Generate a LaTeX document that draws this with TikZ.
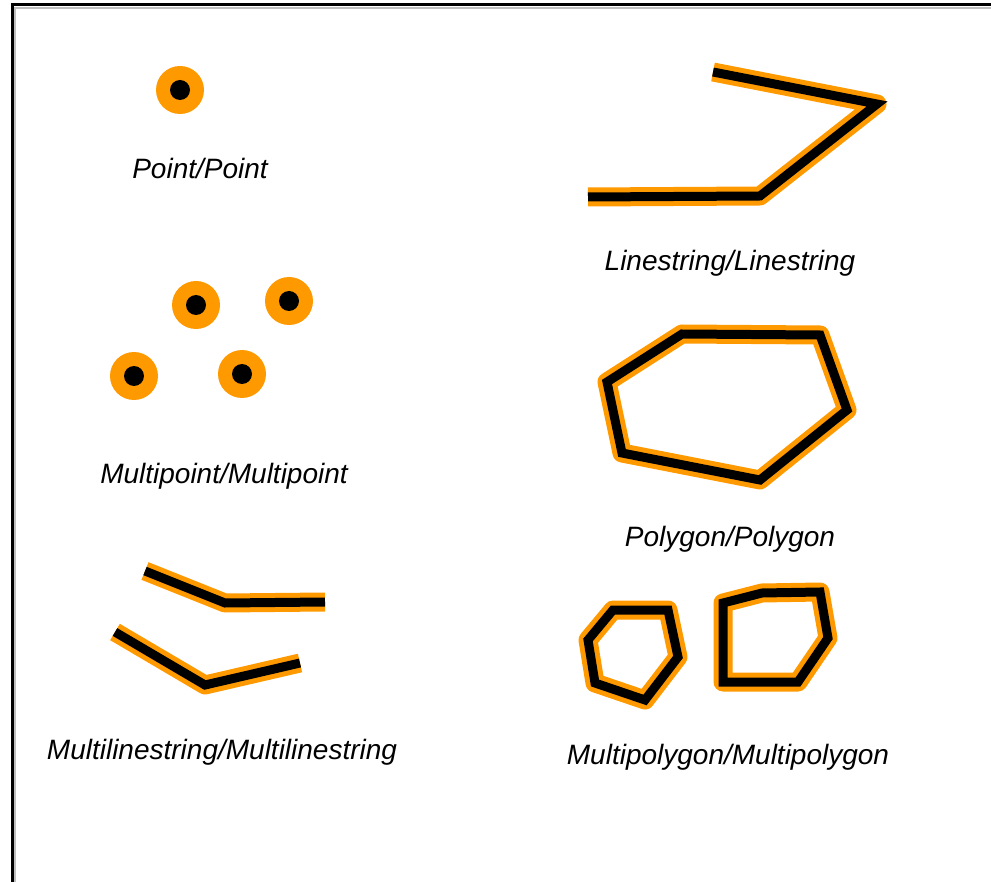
\documentclass[tikz,border=0pt]{standalone}
\usepackage{fontspec}
\setmainfont{Liberation Sans}
\usepackage{tikz}
\definecolor{halo}{RGB}{255,153,0}

\begin{document}
\begin{tikzpicture}[
x=1pt, y=-1pt, haloline/.style={draw=halo, line width=19pt, line join=round, line cap=butt}, coreline/.style={draw=black, line width=9pt, line join=miter}, ptouter/.style={circle, fill=halo, minimum size=48pt, inner sep=0pt}, ptinner/.style={circle, fill=black, minimum size=20pt, inner sep=0pt}, caption/.style={font=\fontsize{28}{30}\selectfont\itshape, inner sep=0pt, anchor=base} ]
\useasboundingbox (0,0) rectangle (991,882);
\draw[line width=3pt] (12,882) -- (12,5) -- (991,5);
\draw[gray!50, line width=1.5pt] (14.8,882) -- (14.8,7.8) -- (991,7.8);
% points
\node[ptouter] (p1o) at (180,90) {};
\node[ptinner] (p1i) at (p1o) {};
\node[caption] (ptlabel) at (200,179) {Point/Point};
\foreach \n/\px/\py in {a/196/305, b/289/301, c/134/376, d/242/374} {
  \node[ptouter] (mp\n o) at (\px,\py) {};
  \node[ptinner] (mp\n i) at (mp\n o) {};
}
\node[caption] (mplabel) at (224,483) {Multipoint/Multipoint};
% lines
\foreach \s in {haloline, coreline}
  \draw[\s] (713,72) -- (877,104) -- (760,196) -- (588,197);
\node[caption] (lslabel) at (730,271) {Linestring/Linestring};
\foreach \s in {haloline, coreline} {
  \draw[\s] (145,571) -- (225,603) -- (325,602);
  \draw[\s] (115,632) -- (205,685) -- (300,663);
}
\node[caption] (mlslabel) at (222,759) {Multilinestring/Multilinestring};
% polygons
\foreach \s in {haloline, coreline}
  \draw[\s] (682,334) -- (820,335) -- (847,410) -- (760,480) -- (622,453) -- (607,382) -- cycle;
\node[caption] (pglabel) at (730,546) {Polygon/Polygon};
\foreach \s in {haloline, coreline} {
  \draw[\s] (613,610) -- (668,610) -- (678,657) -- (645,700) -- (595,683) -- (588,640) -- cycle;
  \draw[\s] (723,603) -- (762,593) -- (820,592) -- (828,638) -- (798,682) -- (723,682) -- cycle;
}
\node[caption] (mpglabel) at (728,764) {Multipolygon/Multipolygon};
\end{tikzpicture}
\end{document}
